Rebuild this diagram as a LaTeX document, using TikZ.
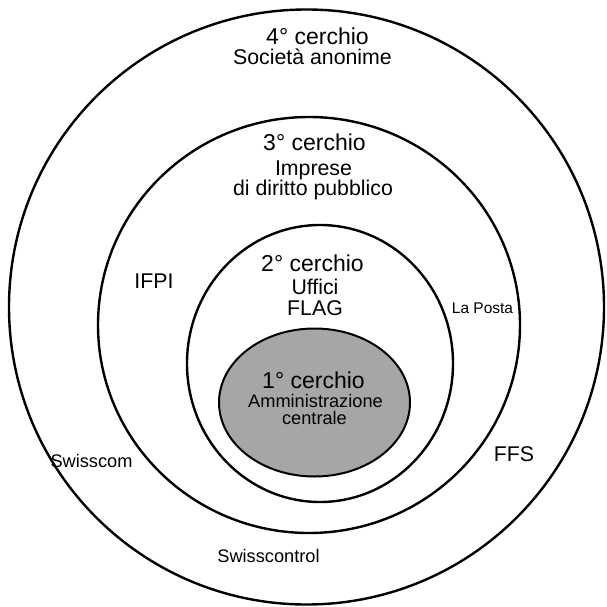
\documentclass[tikz,border=0pt]{standalone}
\usepackage{fontspec}
\setmainfont{Liberation Sans}
\usetikzlibrary{shapes.geometric}
\definecolor{corefill}{RGB}{166,166,166}
\tikzset{
  ring/.style={draw=black, line width=2.4pt, ellipse, inner sep=0pt, outer sep=0pt},
  core/.style={draw=black, line width=2pt, fill=corefill, ellipse, inner sep=0pt, outer sep=0pt},
  title/.style={anchor=base, inner sep=0pt, font=\fontsize{23}{27}\selectfont},
  sub/.style={anchor=base, inner sep=0pt, font=\fontsize{21.3}{25}\selectfont},
  subs/.style={anchor=base, inner sep=0pt, font=\fontsize{18.2}{22}\selectfont},
  small/.style={anchor=base, inner sep=0pt, font=\fontsize{15.5}{19}\selectfont}
}
\begin{document}
\begin{tikzpicture}[x=1pt,y=-1pt]
\useasboundingbox (0,0) rectangle (606,607);
\node[ring, minimum width=595pt, minimum height=595pt] (c4) at (306.5,307) {};
\node[ring, minimum width=422pt, minimum height=416pt] (c3) at (309,325) {};
\node[ring, minimum width=266pt, minimum height=277pt] (c2) at (320,363.5) {};
\node[core, minimum width=191pt, minimum height=148pt] (c1) at (314.5,402.5) {};

\node[title] (t4) at (317.5,45) {4° cerchio};
\node[sub] (s4) at (312.5,65) {Società anonime};
\node[title] (t3) at (314.5,150) {3° cerchio};
\node[sub, text depth=3.5pt] (s3a) at (313.5,175) {Imprese};
\node[sub, text height=14.5pt] (s3b) at (313,195.5) {di diritto pubblico};
\node[title] (t2) at (312.5,271) {2° cerchio};
\node[sub] (s2a) at (315,294) {Uffici};
\node[sub] (s2b) at (315,315) {FLAG};
\node[title] (t1) at (313.5,388) {1° cerchio};
\node[subs, text depth=0pt] (s1a) at (315.5,407.5) {Amministrazione};
\node[subs, text height=12.5pt] (s1b) at (314.5,424.5) {centrale};

\node[sub] (ifpi) at (154,288) {IFPI};
\node[small] (posta) at (482.5,313) {La Posta};
\node[subs] (swcom) at (91.5,467) {Swisscom};
\node[sub] (ffs) at (514,461) {FFS};
\node[subs] (swctl) at (268.5,562) {Swisscontrol};
\end{tikzpicture}
\end{document}
